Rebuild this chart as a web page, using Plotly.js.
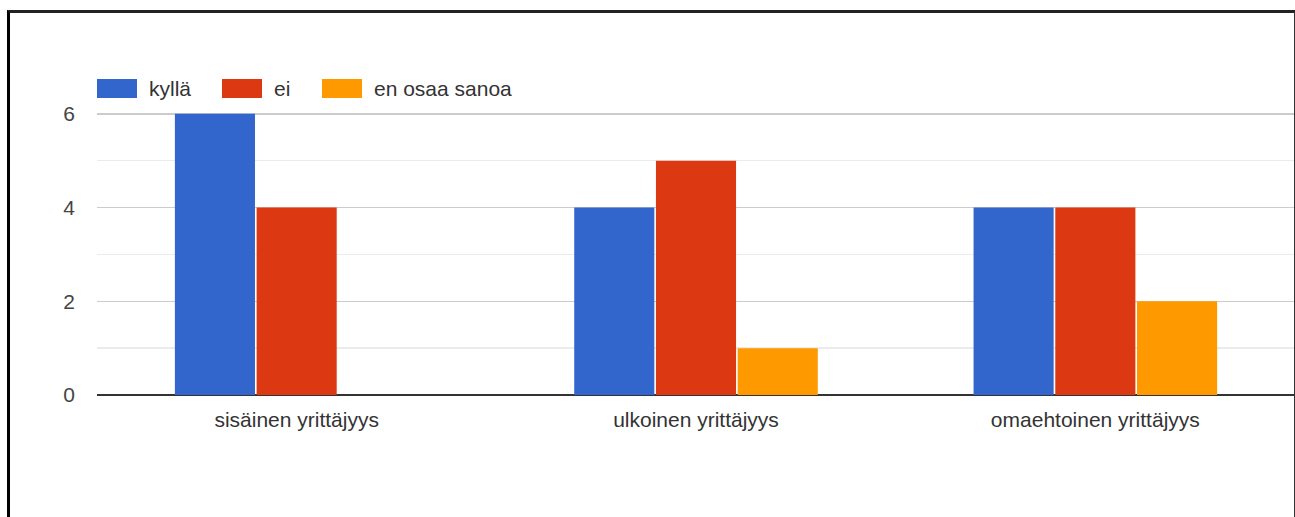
<!DOCTYPE html>
<html>
<head>
<meta charset="utf-8">
<script src="https://cdn.plot.ly/plotly-3.0.1.min.js"></script>
<style>
  html, body { margin: 0; padding: 0; background: #fff; }
  #chart { position: absolute; left: 0; top: 0; width: 1295px; height: 517px; }
  #frame { position: absolute; left: 7px; top: 10px; width: 1284px; height: 520px;
           border-left: 3px solid #000; border-top: 3px solid #222; border-right: 2px solid #333;
           pointer-events: none; }
</style>
</head>
<body>
<div id="chart"></div>
<div id="frame"></div>
<script>
const categories = ["sisäinen yrittäjyys", "ulkoinen yrittäjyys", "omaehtoinen yrittäjyys"];
const seriesNames = ["kyllä", "ei", "en osaa sanoa"];
const kylla = [6, 4, 4];
const ei = [4, 5, 4];
const enOsaaSanoa = [0, 1, 2];
const yTickVals = [0, 2, 4, 6];
const yTickText = ["0", "2", "4", "6"];

const colors = ["#3366cc", "#dc3912", "#ff9900"];
const seriesValues = [kylla, ei, enOsaaSanoa];

const FONT = "Liberation Sans, Arial, sans-serif";
const FS = 21;

const traces = seriesValues.map((vals, i) => ({
  type: "bar",
  name: seriesNames[i],
  x: categories,
  y: vals,
  marker: { color: colors[i] },
  hoverinfo: "x+y+name"
}));

// plot area in pixels: left 97, right 1295, top 67, bottom 395
const L = 97, R = 1295, T = 67, B = 395;
const px = v => (v - L) / (R - L);
const py = v => (B - v) / (B - T);

const legendSwatchX = [97, 222, 322];
const legendTextX = [148, 273, 373];
const shapes = [];
const annotations = [];
seriesNames.forEach((n, i) => {
  shapes.push({
    type: "rect", xref: "paper", yref: "paper",
    x0: px(legendSwatchX[i]), x1: px(legendSwatchX[i] + 40),
    y0: py(98), y1: py(79),
    fillcolor: colors[i], line: { width: 0 }
  });
  annotations.push({
    xref: "paper", yref: "paper", x: px(legendTextX[i] - 1), y: py(88.5),
    xanchor: "left", yanchor: "middle", showarrow: false,
    text: n, font: { family: FONT, size: FS, color: "#333" }
  });
});

const layout = {
  width: 1295, height: 517,
  margin: { l: L, r: 1295 - R, t: T, b: 517 - B, pad: 0 },
  paper_bgcolor: "#fff", plot_bgcolor: "#fff",
  showlegend: false,
  barmode: "group",
  bargap: 0.386,
  bargroupgap: 0.02,
  font: { family: FONT, size: FS, color: "#333" },
  xaxis: {
    type: "category",
    range: [-0.5, 2.5],
    showgrid: false, showline: false, zeroline: false,
    ticks: "", ticklabelstandoff: 10,
    tickfont: { family: FONT, size: FS, color: "#333" },
    fixedrange: true
  },
  yaxis: {
    range: [0, 7],
    tickvals: yTickVals, ticktext: yTickText,
    showgrid: true, gridcolor: "#cccccc", gridwidth: 1.5,
    minor: { dtick: 1, showgrid: true, gridcolor: "#ebebeb", gridwidth: 1.5 },
    zeroline: true, zerolinecolor: "#333333", zerolinewidth: 1.5,
    showline: false, ticks: "", ticklabelstandoff: 21,
    tickfont: { family: FONT, size: FS, color: "#444" },
    fixedrange: true
  },
  shapes: shapes,
  annotations: annotations
};

Plotly.newPlot("chart", traces, layout, { displayModeBar: false, staticPlot: true });
</script>
</body>
</html>
